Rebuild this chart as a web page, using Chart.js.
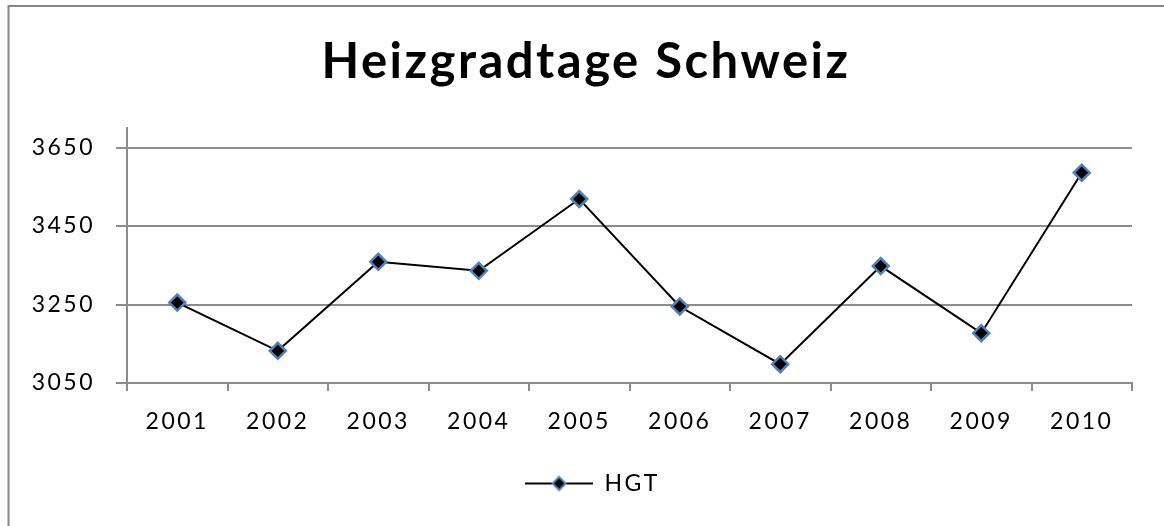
<!DOCTYPE html>
<html>
<head>
<meta charset="utf-8">
<script src="https://cdn.jsdelivr.net/npm/chart.js@4/dist/chart.umd.min.js"></script>
<style>
  html, body { margin: 0; padding: 0; background: #ffffff; }
  #wrap { width: 1164px; height: 526px; position: relative; overflow: hidden; }
  canvas { display: block; }
</style>
</head>
<body>
<div id="wrap"><canvas id="c" width="1164" height="526"></canvas></div>
<script>
// ---- data ----
const categories = ['2001', '2002', '2003', '2004', '2005', '2006', '2007', '2008', '2009', '2010'];
const hgtValues = [3255, 3132, 3359, 3336, 3519, 3245, 3098, 3348, 3177, 3586];
const yTickValues = [3050, 3250, 3450, 3650];
const yMin = 3050;
const yMax = 3700;
const seriesName = 'HGT';
const titleText = 'Heizgradtage Schweiz';

// ---- styles ----
const GRID = '#8c8c8c';
const MARKER_BLUE = '#4f81bd';
const FONT = 'Lato';
const SPACING = '2.5px';

// legend symbol: short black line with a diamond marker
function makeLegendSymbol() {
  const cv = document.createElement('canvas');
  cv.width = 68; cv.height = 20;
  const g = cv.getContext('2d');
  g.strokeStyle = '#000'; g.lineWidth = 2;
  g.beginPath(); g.moveTo(0, 10); g.lineTo(68, 10); g.stroke();
  g.beginPath();
  g.moveTo(34, 3.5); g.lineTo(40.5, 10); g.lineTo(34, 16.5); g.lineTo(27.5, 10); g.closePath();
  g.fillStyle = '#000'; g.fill();
  g.strokeStyle = MARKER_BLUE; g.lineWidth = 2; g.stroke();
  return cv;
}
const legendSymbol = makeLegendSymbol();

const framePlugin = {
  id: 'frame',
  beforeLayout(chart) { chart.ctx.letterSpacing = SPACING; },
  afterLayout(chart) {
    // centre legend and title like the original chart
    if (chart.legend) { chart.legend.left += 21.5; chart.legend.right += 21.5; }
    if (chart.titleBlock) { chart.titleBlock.left += 15; chart.titleBlock.right += 15; }
  },
  beforeDraw(chart) {
    const ctx = chart.ctx;
    ctx.save();
    ctx.fillStyle = '#ffffff';
    ctx.fillRect(0, 0, chart.width, chart.height);
    ctx.strokeStyle = '#868686';
    ctx.lineWidth = 2;
    ctx.beginPath();
    ctx.moveTo(8.5, chart.height);
    ctx.lineTo(8.5, 6);
    ctx.lineTo(chart.width, 6);
    ctx.stroke();
    ctx.restore();
    ctx.letterSpacing = SPACING;
  }
};

new Chart(document.getElementById('c'), {
  type: 'line',
  data: {
    labels: categories,
    datasets: [{
      label: seriesName,
      data: hgtValues,
      borderColor: '#000000',
      borderWidth: 2,
      tension: 0,
      fill: false,
      pointStyle: 'rectRot',
      pointRadius: 8,
      pointHoverRadius: 8,
      pointBackgroundColor: '#000000',
      pointBorderColor: MARKER_BLUE,
      pointBorderWidth: 2.5
    }]
  },
  options: {
    responsive: false,
    animation: false,
    devicePixelRatio: 1,
    layout: { padding: { left: 10, right: 32, top: 0, bottom: 21 } },
    plugins: {
      title: {
        display: true,
        text: titleText,
        color: '#000000',
        font: { family: FONT, size: 49, weight: 'bold' },
        padding: { top: 33, bottom: 36.2 }
      },
      legend: {
        display: true,
        position: 'bottom',
        labels: {
          usePointStyle: true,
          pointStyle: legendSymbol,
          pointStyleWidth: 68,
          boxHeight: 20,
          color: '#000000',
          font: { family: FONT, size: 23 },
          padding: 19
        }
      },
      tooltip: { enabled: false }
    },
    scales: {
      x: {
        type: 'category',
        offset: true,
        grid: { offset: true, drawOnChartArea: false, drawTicks: true, tickLength: 8, color: GRID, lineWidth: 2 },
        border: { display: true, color: GRID, width: 2 },
        ticks: { color: '#000000', font: { family: FONT, size: 23 }, padding: 17, maxRotation: 0, autoSkip: false },
        afterFit(s) { s.height = 70; }
      },
      y: {
        min: yMin,
        max: yMax,
        afterBuildTicks(s) { s.ticks = yTickValues.map(v => ({ value: v })); },
        grid: { color: GRID, lineWidth: 2, drawTicks: true, tickLength: 11 },
        border: { display: true, color: GRID, width: 2 },
        ticks: { color: '#000000', font: { family: FONT, size: 23 }, padding: 21, callback: v => String(v) },
        afterFit(s) { s.width = 117; }
      }
    }
  },
  plugins: [framePlugin]
});
</script>
</body>
</html>
